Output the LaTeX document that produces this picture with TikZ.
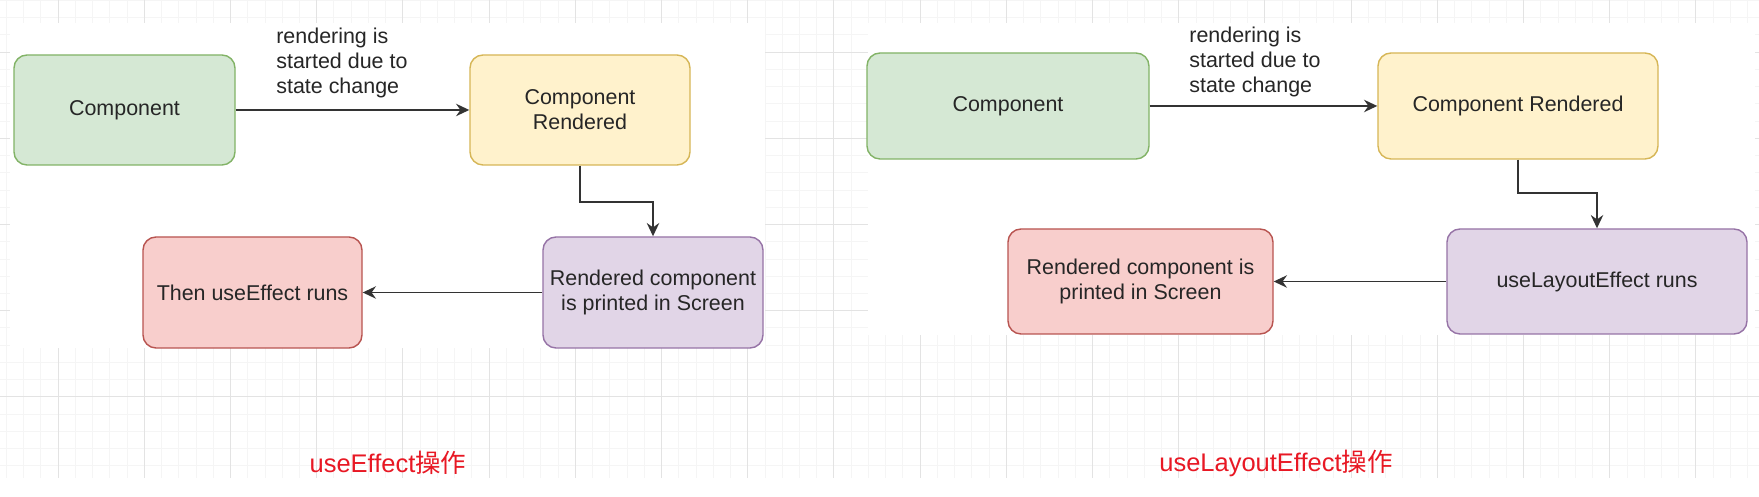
\documentclass[tikz,border=0pt]{standalone}
\usepackage{fontspec}
\setmainfont{Liberation Sans}
\newfontfamily\cjk{Noto Sans CJK SC}
\usetikzlibrary{arrows.meta,positioning}

\definecolor{greenfill}{HTML}{D5E8D4}
\definecolor{greenline}{HTML}{82B366}
\definecolor{yellowfill}{HTML}{FFF2CC}
\definecolor{yellowline}{HTML}{D6B656}
\definecolor{purplefill}{HTML}{E1D5E7}
\definecolor{purpleline}{HTML}{9673A6}
\definecolor{redfill}{HTML}{F8CECC}
\definecolor{redline}{HTML}{B85450}
\definecolor{tagred}{RGB}{232,24,36}

\begin{document}
\begin{tikzpicture}[
    box/.style={draw, rounded corners=0.26cm, line width=0.8pt, align=center,
      text=black!85, inner sep=0pt, font=\fontsize{12.2}{14.2}\selectfont},
    note/.style={align=left, text=black!85, inner sep=0pt, font=\fontsize{12.2}{14.2}\selectfont},
    tag/.style={text=tagred, inner sep=0pt, font=\fontsize{14.5}{16}\selectfont},
    flow/.style={-{Stealth[length=7.5pt,width=7pt]}, line width=1.1pt, draw=black!80},
    gridminor/.style={draw=black!4, line width=0.4pt},
    gridmajor/.style={draw=black!11, line width=0.5pt}
  ]
				\useasboundingbox (0,0) rectangle (35.18,9.94);

				% Canvas grid behind the two screenshots
				\fill[white] (0,0) rectangle (35.18,9.94);
				\begin{scope}
				\clip (0,0) rectangle (35.18,9.94);
				\draw[gridminor, step=0.3448, shift={(1.16,8.90)}] (-2,-10) grid (35,2);
				\draw[gridmajor, step=1.724, shift={(1.16,8.90)}] (-2,-10) grid (35,2);
				\end{scope}
				\fill[white] (0.2,2.98) rectangle (15.3,9.48);
				\fill[white] (17.36,3.24) rectangle (35.1,9.48);
				\fill[white] (0,0) rectangle (35.18,0.38);

				% Left: useEffect
				\node[box, fill=greenfill, draw=greenline, minimum width=4.42cm, minimum height=2.2cm] (comp1) at (2.49, 7.74) {Component};
				\node[box, fill=yellowfill, draw=yellowline, minimum width=4.4cm, minimum height=2.2cm] (rend1) at (11.6, 7.74) {Component\\Rendered};
				\node[box, fill=purplefill, draw=purpleline, minimum width=4.4cm, minimum height=2.22cm] (screen1) at (13.06, 4.09) {Rendered component\\is printed in Screen};
				\node[box, fill=redfill, draw=redline, minimum width=4.38cm, minimum height=2.22cm] (effect1) at (5.05, 4.09) {Then useEffect runs};
				\node[note, anchor=west] (why1) at (5.52, 8.68) {rendering is\\started due to\\state change};
				\node[tag] (tag1) at (7.76, 0.68) {useEffect{\cjk 操作}};

				\draw[flow] (comp1) -- (rend1);
				\draw[flow] (rend1.south) -- ++(0,-0.72) -| (screen1.north);
				\draw[flow] (screen1) -- (effect1);

				% Right: useLayoutEffect
				\node[box, fill=greenfill, draw=greenline, minimum width=5.64cm, minimum height=2.12cm] (comp2) at (20.16, 7.82) {Component};
				\node[box, fill=yellowfill, draw=yellowline, minimum width=5.6cm, minimum height=2.12cm] (rend2) at (30.36, 7.82) {Component Rendered};
				\node[box, fill=purplefill, draw=purpleline, minimum width=6.0cm, minimum height=2.1cm] (layout2) at (31.94, 4.31) {useLayoutEffect runs};
				\node[box, fill=redfill, draw=redline, minimum width=5.3cm, minimum height=2.1cm] (screen2) at (22.81, 4.31) {Rendered component is\\printed in Screen};
				\node[note, anchor=west] (why2) at (23.78, 8.70) {rendering is\\started due to\\state change};
				\node[tag] (tag2) at (25.52, 0.68) {useLayoutEffect{\cjk 操作}};

				\draw[flow] (comp2) -- (rend2);
				\draw[flow] (rend2.south) -- ++(0,-0.66) -| (layout2.north);
				\draw[flow] (layout2) -- (screen2);
			\end{tikzpicture}
\end{document}
